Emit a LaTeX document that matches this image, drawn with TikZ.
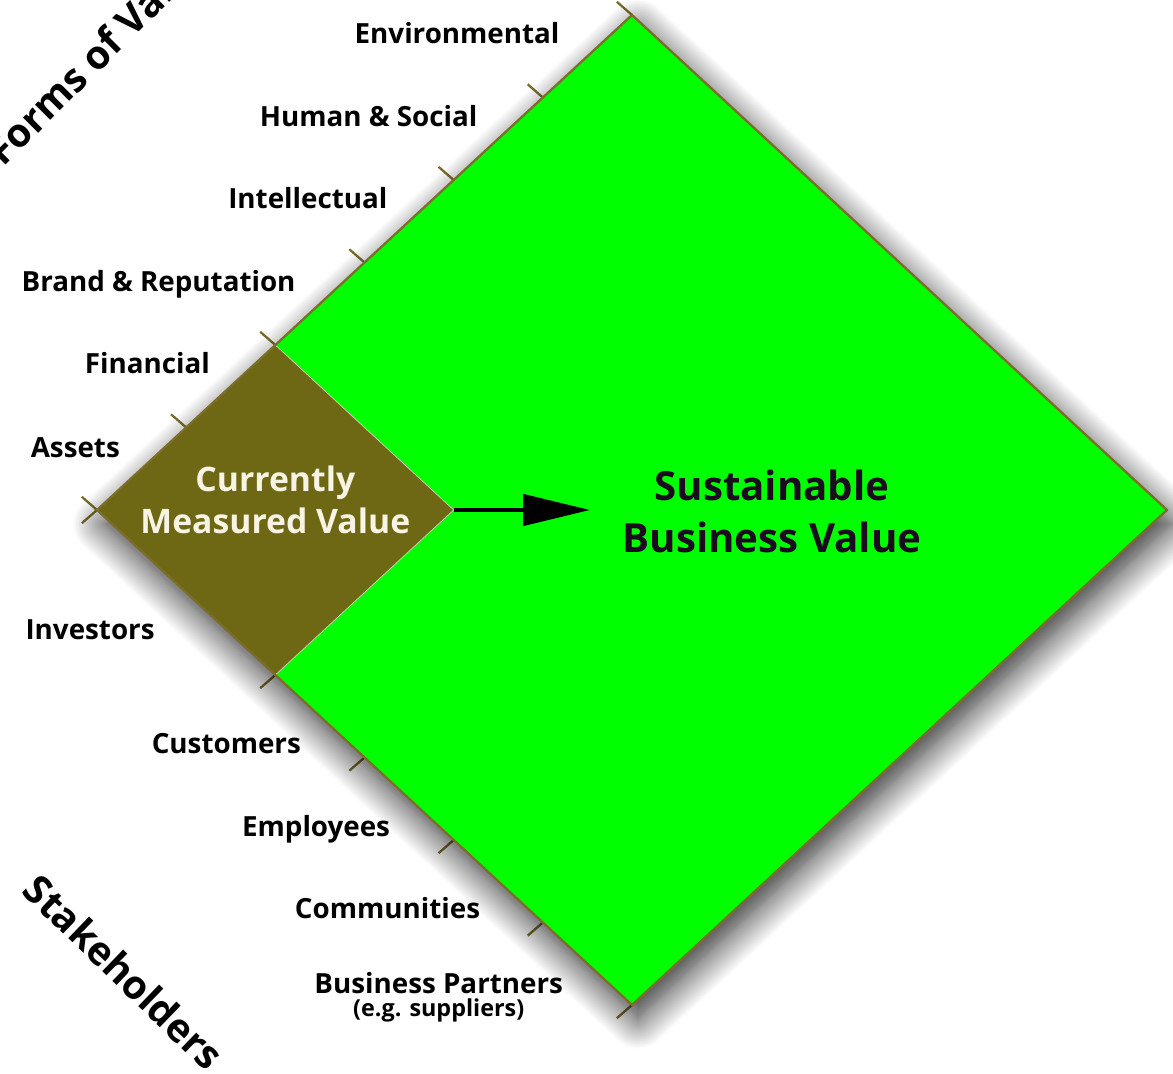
\documentclass[tikz,border=0pt]{standalone}
\usepackage{fontspec}
\setmainfont{Open Sans}
\usepackage{tikz}
\usetikzlibrary{arrows.meta, positioning, shadows.blur}

\definecolor{valuegreen}{RGB}{0,255,0}
\definecolor{measbrown}{RGB}{110,104,20}
\definecolor{axisolive}{RGB}{122,110,42}
\definecolor{cream}{RGB}{248,244,228}
\definecolor{darkink}{RGB}{26,12,30}

\begin{document}
\begin{tikzpicture}[x=1.7834cm, y=1.65cm,
    lab/.style={font=\fontsize{15.8}{19}\selectfont\bfseries, text height=1.33ex, text depth=0pt, inner sep=0pt, anchor=east},
    axistick/.style={draw=axisolive, line width=1.3pt},
    axistitle/.style={font=\fontsize{22.5}{27}\selectfont\bfseries, inner sep=0pt}]
    \useasboundingbox (-1.088,-6.836) rectangle (12.067,6.182);

    % Corners
    \coordinate (L) at (0,0);
    \coordinate (T) at (6,6);
    \coordinate (R) at (12,0);
    \coordinate (B) at (6,-6);
    \coordinate (cmvT) at (2,2);
    \coordinate (cmvR) at (4,0);
    \coordinate (cmvB) at (2,-2);
    \coordinate (tip) at (5.53,0);

    % Ticks
    \draw[axistick] (0,0) -- ++(-0.17,0.16) (1,1) -- ++(-0.17,0.16) (2,2) -- ++(-0.17,0.16)
        (3,3) -- ++(-0.17,0.16) (4,4) -- ++(-0.17,0.16) (5,5) -- ++(-0.17,0.16) (6,6) -- ++(-0.17,0.16);
    \draw[axistick] (0,0) -- ++(-0.17,-0.16) (2,-2) -- ++(-0.17,-0.16) (3,-3) -- ++(-0.17,-0.16)
        (4,-4) -- ++(-0.17,-0.16) (5,-5) -- ++(-0.17,-0.16) (6,-6) -- ++(-0.17,-0.16);

    % Diamonds
    \begin{scope}
        \fill[valuegreen, blur shadow={shadow xshift=0.12cm, shadow yshift=-0.28cm, shadow blur radius=0.6cm, shadow blur steps=20, shadow opacity=85}]
            (L) -- (T) -- (R) -- (B) -- cycle;
    \end{scope}
    \fill[measbrown] (L) -- (cmvT) -- (cmvR) -- (cmvB) -- cycle;
    \draw[white!70!axisolive, line width=0.4pt] (cmvT) -- (cmvR) -- (cmvB);
    \draw[axisolive, line width=1.3pt] (L) -- (T) -- (R) -- (B) -- cycle;

    % Forms of value
    \node[lab] (Assets) at (0.26,0.71) {Assets};
    \node[lab] (Fin) at (1.27,1.73) {Financial};
    \node[lab] (Brand) at (2.23,2.73) {Brand \& Reputation};
    \node[lab] (Intel) at (3.26,3.73) {Intellectual};
    \node[lab] (HumSoc) at (4.27,4.73) {Human \& Social};
    \node[lab] (Env) at (5.19,5.73) {Environmental};

    % Stakeholders
    \node[lab] (Inv) at (0.65,-1.49) {Investors};
    \node[lab] (Cust) at (2.29,-2.88) {Customers};
    \node[lab] (Empl) at (3.29,-3.88) {Employees};
    \node[lab] (Comm) at (4.30,-4.88) {Communities};
    \node[lab] (BP) at (5.23,-5.78) {Business Partners};
    \node[font=\fontsize{13.3}{16}\selectfont\bfseries, inner sep=0pt, below=3pt of BP] (BPnote) {(e.g. suppliers)};

    % Axis titles
    \node[axistitle, rotate=45] (Forms) at (-0.005,5.53) {Forms of Value};
    \node[axistitle, rotate=-44] (Stake) at (0.305,-5.6) {Stakeholders};

    % Values
    \node[font=\fontsize{19.2}{23.9}\selectfont\bfseries, text=cream, align=center] (CMV) at (2,0.12) {Currently\\Measured Value};
    \node[font=\fontsize{22.9}{29.6}\selectfont\bfseries, text=darkink, align=center] (SBV) at (7.57,-0.02) {Sustainable\\Business Value};
    \draw[-{Triangle[length=1.34cm, width=0.62cm]}, draw=black, fill=black, line width=2.6pt] (cmvR) -- (tip);
\end{tikzpicture}
\end{document}
